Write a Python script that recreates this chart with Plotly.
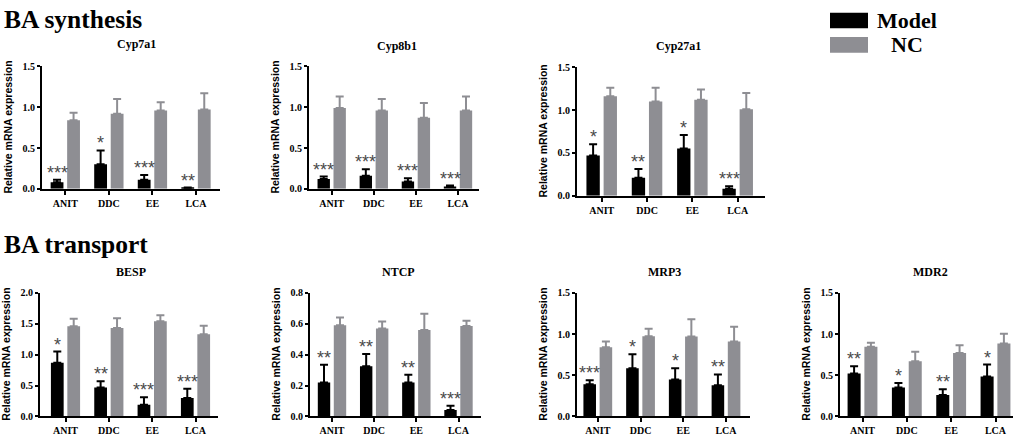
import plotly.graph_objects as go

W, H = 1017, 438

groups = ["ANIT", "DDC", "EE", "LCA"]

# Cyp7a1
cyp7a1_model = [0.08, 0.30, 0.11, 0.01]
cyp7a1_model_sem = [0.03, 0.17, 0.06, 0.005]
cyp7a1_nc = [0.84, 0.92, 0.96, 0.97]
cyp7a1_nc_sem = [0.09, 0.18, 0.10, 0.20]
cyp7a1_stars = ["***", "*", "***", "**"]

# Cyp8b1
cyp8b1_model = [0.12, 0.16, 0.09, 0.03]
cyp8b1_model_sem = [0.03, 0.08, 0.04, 0.01]
cyp8b1_nc = [0.99, 0.96, 0.87, 0.96]
cyp8b1_nc_sem = [0.14, 0.14, 0.18, 0.17]
cyp8b1_stars = ["***", "***", "***", "***"]

# Cyp27a1
cyp27a1_model = [0.47, 0.21, 0.55, 0.08]
cyp27a1_model_sem = [0.13, 0.10, 0.16, 0.03]
cyp27a1_nc = [1.16, 1.10, 1.12, 1.01]
cyp27a1_nc_sem = [0.10, 0.16, 0.12, 0.19]
cyp27a1_stars = ["*", "**", "*", "***"]

# BESP
besp_model = [0.87, 0.47, 0.19, 0.30]
besp_model_sem = [0.18, 0.10, 0.12, 0.15]
besp_nc = [1.46, 1.43, 1.54, 1.33]
besp_nc_sem = [0.12, 0.16, 0.10, 0.14]
besp_stars = ["*", "**", "***", "***"]

# NTCP
ntcp_model = [0.22, 0.325, 0.22, 0.042]
ntcp_model_sem = [0.115, 0.08, 0.05, 0.028]
ntcp_nc = [0.59, 0.57, 0.56, 0.585]
ntcp_nc_sem = [0.05, 0.045, 0.105, 0.035]
ntcp_stars = ["**", "**", "**", "***"]

# MRP3
mrp3_model = [0.39, 0.585, 0.45, 0.38]
mrp3_model_sem = [0.05, 0.17, 0.135, 0.13]
mrp3_nc = [0.84, 0.975, 0.97, 0.91]
mrp3_nc_sem = [0.07, 0.09, 0.21, 0.18]
mrp3_stars = ["***", "*", "*", "**"]

# MDR2
mdr2_model = [0.52, 0.35, 0.26, 0.485]
mdr2_model_sem = [0.09, 0.055, 0.07, 0.145]
mdr2_nc = [0.845, 0.67, 0.77, 0.885]
mdr2_nc_sem = [0.05, 0.115, 0.095, 0.12]
mdr2_stars = ["**", "*", "**", "*"]

MODEL_COLOR = "#000000"
NC_COLOR = "#8e8e93"
STAR_COLOR = "#4a4a4a"
SERIF = "Liberation Serif"
SANS = "Liberation Sans"

BARGAP = 0.242
BARGROUPGAP = 0.224

# pixel geometry of each panel:
# y-axis x, first/last group centre, axis end, top, bottom, title centre x/y
panels = [
    ("Cyp7a1", cyp7a1_model, cyp7a1_model_sem, cyp7a1_nc, cyp7a1_nc_sem, cyp7a1_stars, 1.5, 0.5,
     (42, 65.3, 196, 220, 62, 188, 136, 39)),
    ("Cyp8b1", cyp8b1_model, cyp8b1_model_sem, cyp8b1_nc, cyp8b1_nc_sem, cyp8b1_stars, 1.5, 0.5,
     (309, 331.7, 458, 479, 62, 188, 397, 41)),
    ("Cyp27a1", cyp27a1_model, cyp27a1_model_sem, cyp27a1_nc, cyp27a1_nc_sem, cyp27a1_stars, 1.5, 0.5,
     (577, 601.7, 737.7, 765, 63, 195, 678, 41)),
    ("BESP", besp_model, besp_model_sem, besp_nc, besp_nc_sem, besp_stars, 2.0, 0.5,
     (40, 65.5, 195.5, 218, 295, 422, 131, 274)),
    ("NTCP", ntcp_model, ntcp_model_sem, ntcp_nc, ntcp_nc_sem, ntcp_stars, 0.8, 0.2,
     (310, 332, 458.5, 481, 295, 422, 398.5, 274)),
    ("MRP3", mrp3_model, mrp3_model_sem, mrp3_nc, mrp3_nc_sem, mrp3_stars, 1.5, 0.5,
     (577, 597.8, 726, 750, 295, 422, 664.5, 274)),
    ("MDR2", mdr2_model, mdr2_model_sem, mdr2_nc, mdr2_nc_sem, mdr2_stars, 1.5, 0.5,
     (840, 862.5, 995.5, 1013, 295, 422, 930.5, 274)),
]


def px_x(v):
    return v / W


def px_y(v):
    return 1 - v / H


fig = go.Figure()
annotations = []
layout_axes = {}
bar_offset = (1 - BARGAP) / 4

for i, (gene, m, m_err, nc, nc_err, stars, ymax, dtick, geo) in enumerate(panels):
    n = "" if i == 0 else str(i + 1)
    x0, c0, c3, x1, ytop, ybot, tx, ty = geo
    step = (c3 - c0) / 3
    xr = [-(c0 - x0) / step, 3 + (x1 - c3) / step]

    fig.add_trace(go.Bar(
        x=groups, y=m, name="Model", marker_color=MODEL_COLOR, marker_line_width=0,
        error_y=dict(type="data", array=m_err, arrayminus=[0] * 4, symmetric=False,
                     color=MODEL_COLOR, thickness=2, width=4),
        xaxis="x" + n, yaxis="y" + n
    ))
    fig.add_trace(go.Bar(
        x=groups, y=nc, name="NC", marker_color=NC_COLOR, marker_line_width=0,
        error_y=dict(type="data", array=nc_err, arrayminus=[0] * 4, symmetric=False,
                     color=NC_COLOR, thickness=2, width=4),
        xaxis="x" + n, yaxis="y" + n
    ))

    layout_axes["xaxis" + n] = dict(
        domain=[px_x(x0), px_x(x1)], anchor="y" + n, type="category", range=xr,
        showline=True, linecolor="black", linewidth=2, ticks="outside", ticklen=4,
        tickwidth=2, tickcolor="black", showgrid=False, zeroline=False,
        tickfont=dict(family=SERIF, size=10, color="black", weight="bold")
    )
    layout_axes["yaxis" + n] = dict(
        domain=[px_y(ybot), px_y(ytop)], anchor="x" + n, range=[0, ymax], dtick=dtick,
        tickformat=".1f", showline=True, linecolor="black", linewidth=2, ticks="outside",
        ticklen=3, tickwidth=2, tickcolor="black", showgrid=False, zeroline=False,
        tickfont=dict(family=SERIF, size=10, color="black", weight="bold")
    )

    # stars over the model bars
    for j in range(4):
        annotations.append(dict(
            x=j - bar_offset, y=m[j] + m_err[j], xref="x" + n, yref="y" + n,
            text=stars[j], showarrow=False, xanchor="center", yanchor="bottom", yshift=-5,
            font=dict(family=SANS, size=18, color=STAR_COLOR)
        ))

    # panel title
    annotations.append(dict(
        x=px_x(tx), y=px_y(ty), xref="paper", yref="paper", text=gene, showarrow=False,
        xanchor="center", yanchor="middle",
        font=dict(family=SERIF, size=12, color="black", weight="bold")
    ))
    # y-axis title
    annotations.append(dict(
        x=px_x(x0 - 34), y=px_y((ytop + ybot) / 2), xref="paper", yref="paper",
        text="Relative mRNA expression", textangle=-90, showarrow=False,
        xanchor="center", yanchor="middle",
        font=dict(family=SANS, size=10.5, color="black", weight="bold")
    ))

# section headings
for text, yc in [("BA synthesis", 14), ("BA transport", 245)]:
    annotations.append(dict(
        x=px_x(2), y=px_y(yc), xref="paper", yref="paper", text=text, showarrow=False,
        xanchor="left", yanchor="middle",
        font=dict(family=SERIF, size=25.5, color="black", weight="bold")
    ))

# legend
shapes = []
for label, color, y0, y1, lx in [("Model", MODEL_COLOR, 7, 23, 907), ("NC", NC_COLOR, 32, 48, 907)]:
    shapes.append(dict(type="rect", xref="paper", yref="paper", x0=px_x(830), x1=px_x(868),
                       y0=px_y(y1), y1=px_y(y0), fillcolor=color, line_width=0))
    annotations.append(dict(
        x=px_x(lx), y=px_y((y0 + y1) / 2), xref="paper", yref="paper", text=label,
        showarrow=False, xanchor="center", yanchor="middle",
        font=dict(family=SERIF, size=22, color="black", weight="bold")
    ))

fig.update_layout(
    width=W, height=H,
    margin=dict(l=0, r=0, t=0, b=0),
    barmode="group", bargap=BARGAP, bargroupgap=BARGROUPGAP,
    plot_bgcolor="white", paper_bgcolor="white",
    showlegend=False,
    annotations=annotations, shapes=shapes,
    **layout_axes
)

# drop the default page margin so the figure sits at the window's corner
fig.write_html(
    "out.html",
    config={"displayModeBar": False},
    post_script="document.body.style.margin='0';document.body.style.overflow='hidden';"
)
